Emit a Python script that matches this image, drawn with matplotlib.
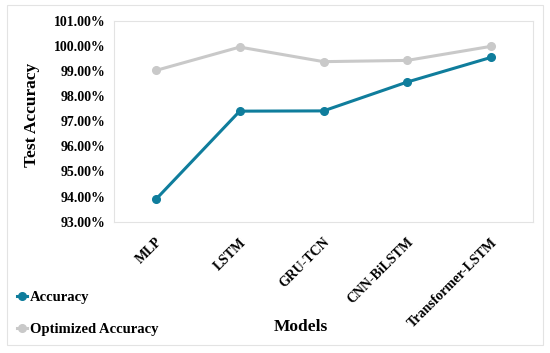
import matplotlib
matplotlib.use('Agg')
import matplotlib.pyplot as plt
from matplotlib.ticker import PercentFormatter
from matplotlib.patches import Rectangle

models = ['MLP', 'LSTM', 'GRU-TCN', 'CNN-BiLSTM', 'Transformer-LSTM']
accuracy = [93.89, 97.40, 97.41, 98.56, 99.54]
optimized = [99.02, 99.95, 99.37, 99.42, 99.98]

plt.rcParams['font.family'] = ['Liberation Serif', 'DejaVu Serif']
plt.rcParams['font.weight'] = 'bold'

fig = plt.figure(figsize=(5.5, 3.53), dpi=100)
ax = fig.add_axes([114/550, 1-221.7/353, (533-114)/550, (221.7-20.7)/353])

x = range(len(models))
ax.plot(x, accuracy, color='#0F7D9C', lw=2.2, marker='o', ms=5.5, label='Accuracy', zorder=3)
ax.plot(x, optimized, color='#C9C9C9', lw=2.2, marker='o', ms=5.5, label='Optimized Accuracy', zorder=2)

ax.set_xlim(-0.5, 4.5)
ax.set_ylim(93, 101)
ax.set_yticks(range(93, 102))
ax.yaxis.set_major_formatter(PercentFormatter(decimals=2))
ax.set_xticks(list(x))
ax.set_xticklabels(models, rotation=45, ha='right', va='top', rotation_mode='anchor')
ax.tick_params(length=0, labelsize=10, pad=6)
ax.tick_params(axis='x', pad=10)
for lab in ax.get_xticklabels() + ax.get_yticklabels():
    lab.set_fontweight('bold')
for s in ax.spines.values():
    s.set_color('#E3E3E3')
    s.set_linewidth(0.8)

fig.text(32/550, 1-115/353, 'Test Accuracy', rotation=90, ha='center', va='center',
         fontsize=12.5, fontweight='bold')
fig.text(301/550, 1-327/353, 'Models', ha='center', va='center',
         fontsize=12.5, fontweight='bold')

fig.legend(loc='lower left', bbox_to_anchor=(4/550, 4/353), frameon=False,
           handlelength=0.7, handletextpad=0.15, labelspacing=1.3,
           prop={'size': 10.5, 'weight': 'bold'})

fig.patches.append(Rectangle((7/550, 8/353), 536/550, 340/353, transform=fig.transFigure,
                             fill=False, edgecolor='#E3E3E3', lw=0.8))

fig.savefig('out.png', dpi=100)
